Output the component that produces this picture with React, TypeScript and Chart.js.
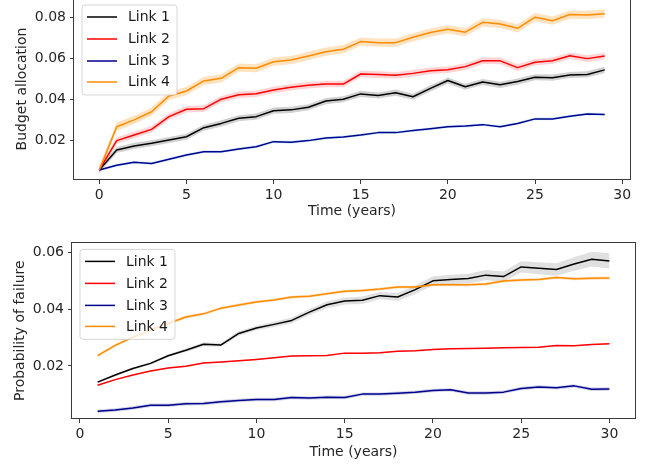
import React, { useEffect, useRef } from "react";
import { Chart, registerables } from "chart.js";

Chart.register(...registerables);

const FONT = "'DejaVu Sans', 'Liberation Sans', sans-serif";

// ---------- data ----------
const seriesNames = ["Link 1", "Link 2", "Link 3", "Link 4"];
const lineColors = ["#000000", "#ff0000", "#00008b", "#ff8c00"];

const budgetYears = [0, 1, 2, 3, 4, 5, 6, 7, 8, 9, 10, 11, 12, 13, 14, 15, 16, 17, 18, 19, 20, 21, 22, 23, 24, 25, 26, 27, 28, 29];
const budgetLink1 = [0.0054, 0.0151, 0.0171, 0.0184, 0.0200, 0.0216, 0.0260, 0.0281, 0.0306, 0.0314, 0.0343, 0.0347, 0.0360, 0.0390, 0.0399, 0.0425, 0.0417, 0.0431, 0.0411, 0.0452, 0.0490, 0.0460, 0.0483, 0.0469, 0.0485, 0.0506, 0.0504, 0.0517, 0.0520, 0.0542];
const budgetLink2 = [0.0054, 0.0197, 0.0224, 0.0252, 0.0314, 0.0350, 0.0353, 0.0399, 0.0421, 0.0426, 0.0444, 0.0457, 0.0467, 0.0473, 0.0473, 0.0522, 0.0519, 0.0516, 0.0525, 0.0538, 0.0543, 0.0558, 0.0587, 0.0586, 0.0553, 0.0579, 0.0587, 0.0611, 0.0597, 0.0610];
const budgetLink3 = [0.0054, 0.0077, 0.0091, 0.0085, 0.0106, 0.0127, 0.0143, 0.0143, 0.0156, 0.0167, 0.0192, 0.0189, 0.0197, 0.0210, 0.0215, 0.0224, 0.0236, 0.0236, 0.0246, 0.0255, 0.0265, 0.0268, 0.0275, 0.0265, 0.0281, 0.0303, 0.0303, 0.0316, 0.0327, 0.0325];
const budgetLink4 = [0.0054, 0.0265, 0.0298, 0.0338, 0.0415, 0.0439, 0.0488, 0.0501, 0.0553, 0.0550, 0.0582, 0.0590, 0.0610, 0.0631, 0.0643, 0.0680, 0.0675, 0.0675, 0.0701, 0.0724, 0.0740, 0.0726, 0.0774, 0.0766, 0.0745, 0.0799, 0.0782, 0.0812, 0.0810, 0.0816];
// half-width of the shaded band, one per link
const budgetSpread = [0.0015, 0.0016, 0.0007, 0.0020];
const budgetBandColors = ["rgba(0,0,0,0.18)", "rgba(255,0,0,0.17)", "rgba(100,200,255,0.30)", "rgba(255,140,0,0.25)"];

const failureYears = [1, 2, 3, 4, 5, 6, 7, 8, 9, 10, 11, 12, 13, 14, 15, 16, 17, 18, 19, 20, 21, 22, 23, 24, 25, 26, 27, 28, 29, 30];
const failureLink1 = [0.0143, 0.0168, 0.0191, 0.0209, 0.0236, 0.0255, 0.0276, 0.0274, 0.0314, 0.0333, 0.0346, 0.0360, 0.0389, 0.0415, 0.0428, 0.0431, 0.0447, 0.0442, 0.0468, 0.0499, 0.0504, 0.0507, 0.0519, 0.0514, 0.0548, 0.0543, 0.0539, 0.0558, 0.0575, 0.0569];
const failureLink2 = [0.0132, 0.0152, 0.0168, 0.0182, 0.0193, 0.0199, 0.0210, 0.0214, 0.0218, 0.0223, 0.0229, 0.0235, 0.0236, 0.0237, 0.0245, 0.0245, 0.0246, 0.0252, 0.0253, 0.0258, 0.0260, 0.0261, 0.0262, 0.0264, 0.0265, 0.0266, 0.0272, 0.0271, 0.0275, 0.0278];
const failureLink3 = [0.0041, 0.0045, 0.0052, 0.0062, 0.0062, 0.0067, 0.0068, 0.0074, 0.0079, 0.0082, 0.0082, 0.0089, 0.0087, 0.0090, 0.0089, 0.0101, 0.0101, 0.0104, 0.0108, 0.0114, 0.0116, 0.0105, 0.0105, 0.0108, 0.0121, 0.0126, 0.0123, 0.0130, 0.0118, 0.0119];
const failureLink4 = [0.0236, 0.0272, 0.0301, 0.0326, 0.0349, 0.0372, 0.0383, 0.0403, 0.0414, 0.0425, 0.0432, 0.0442, 0.0445, 0.0454, 0.0462, 0.0465, 0.0470, 0.0477, 0.0477, 0.0485, 0.0485, 0.0485, 0.0488, 0.0498, 0.0502, 0.0504, 0.0511, 0.0506, 0.0508, 0.0509];
const failureSpreadLink1 = [0.0003, 0.0004, 0.0004, 0.0005, 0.0005, 0.0006, 0.0007, 0.0007, 0.0008, 0.0008, 0.0009, 0.0010, 0.0011, 0.0012, 0.0012, 0.0013, 0.0013, 0.0014, 0.0015, 0.0016, 0.0016, 0.0017, 0.0018, 0.0018, 0.0020, 0.0021, 0.0022, 0.0024, 0.0026, 0.0027];
const failureSpreadOthers = [0.0002, 0.0006, 0.0005];
const failureBandColors = ["rgba(0,0,0,0.12)", "rgba(255,0,0,0.15)", "rgba(0,0,139,0.18)", "rgba(255,140,0,0.25)"];

const xTickValues = [0, 5, 10, 15, 20, 25, 30];
const budgetYTicks = [0.02, 0.04, 0.06, 0.08];
const failureYTicks = [0.02, 0.04, 0.06];

// ---------- helpers ----------
function buildDatasets(xs: number[], series: number[][], spreads: (number | number[])[], bandColors: string[]) {
  const bands: any[] = [];
  const lines: any[] = [];
  series.forEach((ys, s) => {
    const sp = (i: number) => {
      const v = spreads[s];
      return Array.isArray(v) ? v[i] : v;
    };
    bands.push({
      data: xs.map((x, i) => ({ x, y: ys[i] - sp(i) })),
      borderWidth: 0,
      borderColor: "transparent",
      pointRadius: 0,
      fill: false,
      order: 100 - s * 2,
    });
    bands.push({
      data: xs.map((x, i) => ({ x, y: ys[i] + sp(i) })),
      borderWidth: 0,
      borderColor: "transparent",
      backgroundColor: bandColors[s],
      pointRadius: 0,
      fill: "-1",
      order: 99 - s * 2,
    });
    lines.push({
      label: seriesNames[s],
      data: xs.map((x, i) => ({ x, y: ys[i] })),
      borderColor: lineColors[s],
      borderWidth: 1.5,
      borderJoinStyle: "round",
      pointRadius: 0,
      fill: false,
      order: 10 - s,
    });
  });
  return [...bands, ...lines];
}

const framePlugin = {
  id: "frameLegend",
  afterDraw(chart: any) {
    const { ctx, chartArea } = chart;
    const { left, top, right, bottom } = chartArea;
    ctx.save();
    ctx.strokeStyle = "#3a3a3a";
    ctx.lineWidth = 1;
    ctx.strokeRect(Math.round(left) - 0.5, Math.round(top) + 0.5, Math.round(right - left) + 1, Math.round(bottom - top) - 1);

    // legend
    const bx = left + 8;
    const by = top + 7;
    const bw = 95;
    const bh = 90;
    const r = 3;
    ctx.beginPath();
    ctx.moveTo(bx + r, by);
    ctx.lineTo(bx + bw - r, by);
    ctx.quadraticCurveTo(bx + bw, by, bx + bw, by + r);
    ctx.lineTo(bx + bw, by + bh - r);
    ctx.quadraticCurveTo(bx + bw, by + bh, bx + bw - r, by + bh);
    ctx.lineTo(bx + r, by + bh);
    ctx.quadraticCurveTo(bx, by + bh, bx, by + bh - r);
    ctx.lineTo(bx, by + r);
    ctx.quadraticCurveTo(bx, by, bx + r, by);
    ctx.closePath();
    ctx.fillStyle = "rgba(255,255,255,0.8)";
    ctx.fill();
    ctx.strokeStyle = "rgba(204,204,204,0.8)";
    ctx.stroke();

    const rows = [12, 34, 56, 77];
    ctx.font = `14px ${FONT}`;
    ctx.textBaseline = "middle";
    ctx.textAlign = "left";
    seriesNames.forEach((name, i) => {
      const y = by + rows[i];
      ctx.beginPath();
      ctx.strokeStyle = lineColors[i];
      ctx.lineWidth = 1.5;
      ctx.moveTo(bx + 5, y);
      ctx.lineTo(bx + 35, y);
      ctx.stroke();
      ctx.fillStyle = "#1a1a1a";
      ctx.fillText(name, bx + 46, y + 0.5);
    });
    ctx.restore();
  },
};

type PanelProps = {
  top: number;
  height: number;
  xs: number[];
  series: number[][];
  spreads: (number | number[])[];
  bandColors: string[];
  xMin: number;
  xMax: number;
  yMin: number;
  yMax: number;
  yTicks: number[];
  yTitle: string;
  pad: { top: number; right: number };
  yWidth: number;
  xHeight: number;
  yTitlePad: number;
  xTitlePad: number;
};

function Panel(p: PanelProps) {
  const ref = useRef<HTMLCanvasElement | null>(null);
  useEffect(() => {
    if (!ref.current) return;
    const tickFont = { family: FONT, size: 14 };
    const chart = new Chart(ref.current, {
      type: "line",
      data: { datasets: buildDatasets(p.xs, p.series, p.spreads, p.bandColors) as any },
      plugins: [framePlugin],
      options: {
        responsive: false,
        animation: false,
        devicePixelRatio: 1,
        events: [],
        layout: { padding: { left: 0, top: p.pad.top, right: p.pad.right, bottom: 0 } },
        plugins: {
          legend: { display: false },
          tooltip: { enabled: false },
          filler: { propagate: false },
        },
        scales: {
          x: {
            type: "linear",
            min: p.xMin,
            max: p.xMax,
            bounds: "data",
            afterFit: (s: any) => {
              s.height = p.xHeight;
            },
            afterBuildTicks: (s: any) => {
              s.ticks = xTickValues.map((v) => ({ value: v }));
            },
            grid: { drawOnChartArea: false, drawTicks: true, tickLength: 4, color: "#3a3a3a" },
            border: { display: false },
            ticks: {
              font: tickFont,
              color: "#262626",
              padding: 3,
              maxRotation: 0,
              autoSkip: false,
              callback: (v: any) => String(v),
            },
            title: {
              display: true,
              text: "Time (years)",
              font: tickFont,
              color: "#262626",
              padding: { top: 0, bottom: p.xTitlePad },
            },
          },
          y: {
            type: "linear",
            min: p.yMin,
            max: p.yMax,
            bounds: "data",
            afterFit: (s: any) => {
              s.width = p.yWidth;
            },
            afterBuildTicks: (s: any) => {
              s.ticks = p.yTicks.map((v) => ({ value: v }));
            },
            grid: { drawOnChartArea: false, drawTicks: true, tickLength: 4, color: "#3a3a3a" },
            border: { display: false },
            ticks: {
              font: tickFont,
              color: "#262626",
              padding: 4,
              autoSkip: false,
              callback: (v: any) => Number(v).toFixed(2),
            },
            title: {
              display: true,
              text: p.yTitle,
              font: tickFont,
              color: "#262626",
              padding: { top: p.yTitlePad, bottom: 0 },
            },
          },
        },
      } as any,
    });
    return () => chart.destroy();
  }, []);
  return (
    <canvas
      ref={ref}
      width={646}
      height={p.height}
      style={{ position: "absolute", left: 0, top: p.top, width: 646, height: p.height, display: "block" }}
    />
  );
}

export default function App() {
  return (
    <div style={{ position: "absolute", left: 0, top: 0, width: 646, height: 465, overflow: "hidden", background: "#fff" }}>
      <Panel
        top={-20}
        height={240}
        xs={budgetYears}
        series={[budgetLink1, budgetLink2, budgetLink3, budgetLink4]}
        spreads={budgetSpread}
        bandColors={budgetBandColors}
        xMin={-1.45}
        xMax={30.45}
        yMin={0.00049}
        yMax={0.08927}
        yTicks={budgetYTicks}
        yTitle="Budget allocation"
        pad={{ top: 18, right: 16 }}
        yWidth={74}
        xHeight={40}
        yTitlePad={13.6}
        xTitlePad={0}
      />
      <Panel
        top={230}
        height={235}
        xs={failureYears}
        series={[failureLink1, failureLink2, failureLink3, failureLink4]}
        spreads={[failureSpreadLink1, ...failureSpreadOthers]}
        bandColors={failureBandColors}
        xMin={-0.45}
        xMax={31.45}
        yMin={0.00136}
        yMax={0.0634}
        yTicks={failureYTicks}
        yTitle="Probability of failure"
        pad={{ top: 6, right: 11 }}
        yWidth={72}
        xHeight={46}
        yTitlePad={11.6}
        xTitlePad={4.6}
      />
    </div>
  );
}
